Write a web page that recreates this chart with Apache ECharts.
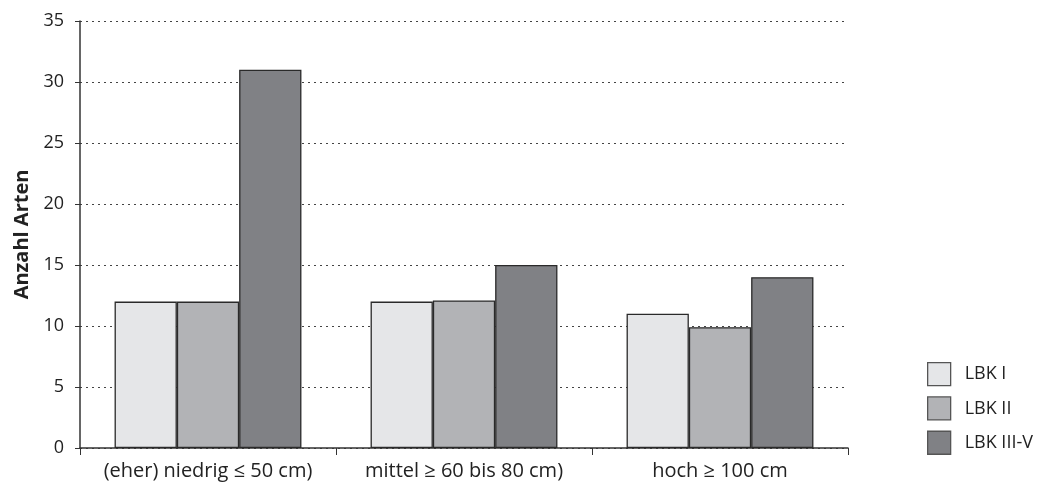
<!DOCTYPE html>
<html><head><meta charset="utf-8">
<script src="https://cdn.jsdelivr.net/npm/echarts@6/dist/echarts.min.js"></script>
<style>html,body{margin:0;padding:0;background:#fff}#c{width:1044px;height:483px}</style>
</head><body><div id="c"></div>
<script>
const categories = ['(eher) niedrig ≤ 50 cm)', 'mittel ≥ 60 bis 80 cm)', 'hoch ≥ 100 cm'];
const seriesNames = ['LBK I', 'LBK II', 'LBK III-V'];
const lbkI = [12, 12, 11];
const lbkII = [12, 12.1, 9.9];
const lbkIIIV = [31, 15, 14];
const colors = ['#e5e6e8', '#b2b3b6', '#808185'];
const yTicks = [0, 5, 10, 15, 20, 25, 30, 35];

const font = '"Open Sans", "Noto Sans", sans-serif';
const chart = echarts.init(document.getElementById('c'));
const data = [lbkI, lbkII, lbkIIIV];
chart.setOption({
  animation: false,
  grid: {left: 80, right: 196, top: 21, bottom: 35, containLabel: false},
  legend: {
    orient: 'vertical', left: 922, top: 357,
    itemWidth: 23, itemHeight: 23, itemGap: 10,
    icon: 'rect',
    itemStyle: {borderColor: '#555', borderWidth: 1.3},
    textStyle: {fontFamily: font, fontSize: 18, color: '#222', padding: [0,0,0,9]},
    data: seriesNames
  },
  xAxis: {
    type: 'category', data: categories,
    axisLine: {lineStyle: {color: '#333', width: 1.5}},
    axisTick: {show: true, length: 7, lineStyle: {color: '#333', width: 1}},
    axisLabel: {fontFamily: font, fontSize: 20, color: '#222', margin: 13, interval: 0}
  },
  yAxis: {
    type: 'value', min: yTicks[0], max: yTicks[yTicks.length-1], interval: 5,
    name: 'Anzahl Arten', nameLocation: 'middle', nameGap: 48,
    nameTextStyle: {fontFamily: font, fontSize: 20, fontWeight: 'bold', color: '#222'},
    axisLine: {show: true, lineStyle: {color: '#333', width: 1.5}},
    axisTick: {show: true, length: 5, lineStyle: {color: '#333'}},
    axisLabel: {fontFamily: font, fontSize: 18, color: '#222', margin: 16},
    splitLine: {lineStyle: {type: [2, 4], color: '#444', width: 1}}
  },
  series: seriesNames.map((n, i) => ({
    name: n, type: 'bar', data: data[i],
    barGap: '0%', barCategoryGap: '27%',
    itemStyle: {color: colors[i], borderColor: '#2a2a2a', borderWidth: 1.3}
  }))
});
</script></body></html>
